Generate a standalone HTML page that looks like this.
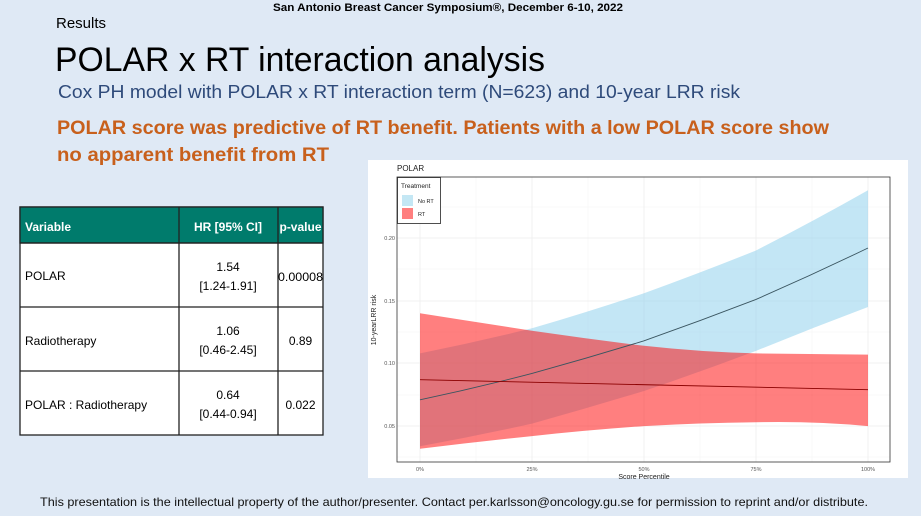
<!DOCTYPE html>
<html><head><meta charset="utf-8"><style>
html,body{margin:0;padding:0;background:#dfe9f5;}
svg{display:block;font-family:"Liberation Sans",sans-serif;}
</style></head><body>
<svg width="921" height="516" viewBox="0 0 921 516" xmlns="http://www.w3.org/2000/svg">
<rect width="921" height="516" fill="#dfe9f5"/>
<text x="273" y="11" font-size="11" font-weight="bold" textLength="350" lengthAdjust="spacingAndGlyphs">San Antonio Breast Cancer Symposium®, December 6-10, 2022</text>
<text x="56" y="28" font-size="15">Results</text>
<text x="55" y="71" font-size="34" textLength="490" lengthAdjust="spacingAndGlyphs">POLAR x RT interaction analysis</text>
<text x="58" y="98" font-size="18" fill="#2e4a7a" textLength="682" lengthAdjust="spacingAndGlyphs">Cox PH model with POLAR x RT interaction term (N=623) and 10-year LRR risk</text>
<text x="57" y="134" font-size="19" font-weight="bold" fill="#c8601c" textLength="772" lengthAdjust="spacingAndGlyphs">POLAR score was predictive of RT benefit. Patients with a low POLAR score show</text>
<text x="57" y="161" font-size="19" font-weight="bold" fill="#c8601c" textLength="272" lengthAdjust="spacingAndGlyphs">no apparent benefit from RT</text>

<g stroke="#222" stroke-width="1.3">
<rect x="20" y="207" width="303" height="228" fill="#fff"/>
<rect x="20" y="207" width="303" height="36" fill="#007b6c"/>
<line x1="20" y1="243" x2="323" y2="243"/>
<line x1="20" y1="307" x2="323" y2="307"/>
<line x1="20" y1="371" x2="323" y2="371"/>
<line x1="179" y1="207" x2="179" y2="435"/>
<line x1="278" y1="207" x2="278" y2="435"/>
</g>
<g font-size="12">
<text x="25" y="231" fill="#fff" font-weight="bold">Variable</text>
<text x="228" y="231" fill="#fff" font-weight="bold" text-anchor="middle">HR [95% CI]</text>
<text x="300.5" y="231" fill="#fff" font-weight="bold" text-anchor="middle">p-value</text>
<text x="25" y="280">POLAR</text>
<text x="228" y="271" text-anchor="middle">1.54</text>
<text x="228" y="290" text-anchor="middle">[1.24-1.91]</text>
<text x="300.5" y="281" text-anchor="middle" textLength="45" lengthAdjust="spacingAndGlyphs">0.00008</text>
<text x="25" y="345">Radiotherapy</text>
<text x="228" y="335" text-anchor="middle">1.06</text>
<text x="228" y="354" text-anchor="middle">[0.46-2.45]</text>
<text x="300.5" y="345" text-anchor="middle">0.89</text>
<text x="25" y="409">POLAR : Radiotherapy</text>
<text x="228" y="399" text-anchor="middle">0.64</text>
<text x="228" y="418" text-anchor="middle">[0.44-0.94]</text>
<text x="300.5" y="409" text-anchor="middle">0.022</text>
</g>

<rect x="368" y="160" width="540" height="318" fill="#fff"/>
<text x="397" y="171" font-size="8" fill="#222">POLAR</text>
<g stroke="#f4f4f4" stroke-width="0.6">
<line x1="476" y1="177" x2="476" y2="462"/><line x1="588" y1="177" x2="588" y2="462"/><line x1="700" y1="177" x2="700" y2="462"/><line x1="812" y1="177" x2="812" y2="462"/>
<line x1="397" y1="207" x2="890" y2="207"/><line x1="397" y1="269" x2="890" y2="269"/><line x1="397" y1="332" x2="890" y2="332"/><line x1="397" y1="395" x2="890" y2="395"/><line x1="397" y1="457" x2="890" y2="457"/>
</g>
<g stroke="#eeeeee" stroke-width="0.8">
<line x1="420" y1="177" x2="420" y2="462"/><line x1="532" y1="177" x2="532" y2="462"/><line x1="644" y1="177" x2="644" y2="462"/><line x1="756" y1="177" x2="756" y2="462"/><line x1="868" y1="177" x2="868" y2="462"/>
<line x1="397" y1="238" x2="890" y2="238"/><line x1="397" y1="301" x2="890" y2="301"/><line x1="397" y1="363" x2="890" y2="363"/><line x1="397" y1="426" x2="890" y2="426"/>
</g>
<path d="M420,353.4 Q476,342 532,328.3 Q588,312 644,293.2 Q700,273 756,250.5 Q812,222 868,190.3 L868,307 Q812,328 756,350.9 Q700,372 644,391 Q588,408 532,423.6 Q476,436 420,446.2 Z" fill="#87ceeb" fill-opacity="0.5"/>
<path d="M420,313.2 Q476,322 532,330.8 Q588,339 644,345.8 Q700,352 756,353.4 L868,354.6 L868,426.1 Q812,421 756,422.3 Q700,423 644,426.1 Q588,430 532,436.1 Q476,442 420,448.7 Z" fill="#ff0000" fill-opacity="0.5"/>
<path d="M420,399.8 Q476,388 532,373.4 Q588,358 644,340.8 Q700,321 756,299.4 Q812,275 868,248" fill="none" stroke="#3a5560" stroke-width="0.9"/>
<path d="M420,379.7 L868,389.7" fill="none" stroke="#8b0000" stroke-width="0.9"/>
<rect x="397" y="177" width="493" height="285" fill="none" stroke="#333" stroke-width="0.8"/>
<g font-size="5.5" fill="#555" text-anchor="end">
<text x="395" y="240">0.20</text><text x="395" y="303">0.15</text><text x="395" y="365">0.10</text><text x="395" y="428">0.05</text>
</g>
<g font-size="5.5" fill="#555" text-anchor="middle">
<text x="420" y="471">0%</text><text x="532" y="471">25%</text><text x="644" y="471">50%</text><text x="756" y="471">75%</text><text x="868" y="471">100%</text>
</g>
<text x="644" y="479" font-size="7" text-anchor="middle" fill="#222">Score Percentile</text>
<text transform="translate(376,320) rotate(-90)" font-size="7" text-anchor="middle" fill="#222">10-yearLRR risk</text>
<rect x="397.5" y="177.5" width="43" height="46" fill="#fff" stroke="#222" stroke-width="0.8"/>
<text x="401" y="188" font-size="6.5" fill="#222">Treatment</text>
<rect x="402" y="195" width="11" height="11" fill="#c4e7f4"/>
<rect x="402" y="208" width="11" height="11" fill="#ff7f7f"/>
<text x="418" y="203" font-size="5.5" fill="#222">No RT</text>
<text x="418" y="216" font-size="5.5" fill="#222">RT</text>

<text x="40" y="506" font-size="12" fill="#111" textLength="828" lengthAdjust="spacingAndGlyphs">This presentation is the intellectual property of the author/presenter.  Contact per.karlsson@oncology.gu.se for permission to reprint and/or distribute.</text>
</svg>
</body></html>
